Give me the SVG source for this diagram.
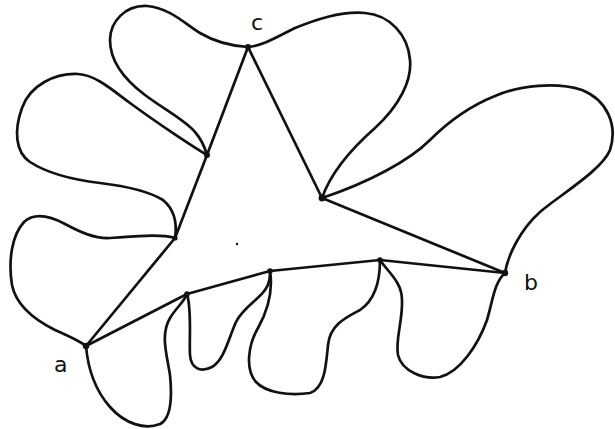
<svg xmlns="http://www.w3.org/2000/svg" width="615" height="429" viewBox="0 0 615 429">
<style>
.ln{fill:none;stroke:#111;stroke-width:2.7;stroke-linecap:round;stroke-linejoin:round}
.pt{fill:#111}
.lbl{font-family:"DejaVu Sans","Liberation Sans",sans-serif;font-size:22px;fill:#111}
</style>
<rect width="615" height="429" fill="#fff"/>
<g id="connectors">
<path class="ln" d="M248,47 L207,155 L175,238 L86,346"/>
<path class="ln" d="M248,47 L322,198 L505,273"/>
<path class="ln" d="M86,346 L187,294 L270,271 L380,260 L505,273"/>
<path class="ln" d="M248,47 C232,46 215,42 200,33 C185,24 170,8 147,6 C125,5 110,22 110,40 C110,62 125,80 145,95 C165,110 185,120 195,132 C202,140 205,148 207,155"/>
<path class="ln" d="M207,155 C195,148 160,125 130,103 C110,88 95,75 78,74 C55,73 30,85 22,108 C14,130 15,152 30,162 C50,175 75,180 100,183 C125,186 150,192 163,200 C175,210 177,225 175,238"/>
<path class="ln" d="M175,238 C160,234 140,236 110,238 C95,239 80,232 65,224 C50,216 35,212 24,222 C12,235 8,260 12,285 C16,305 35,320 55,330 C68,336 78,340 86,346"/>
<path class="ln" d="M86,346 C88,370 95,390 110,407 C125,424 145,430 160,424 C172,418 172,395 170,375 C167,355 160,335 170,318 C176,308 184,302 187,294"/>
<path class="ln" d="M187,294 C192,310 189,340 190,355 C191,368 200,373 212,367 C224,360 228,340 236,322 C243,308 258,300 265,290 C270,283 270,277 270,271"/>
<path class="ln" d="M270,271 C273,290 268,310 258,328 C248,345 245,370 256,382 C266,393 290,396 310,393 C325,388 326,365 328,345 C330,325 345,318 360,310 C375,300 380,280 380,260"/>
<path class="ln" d="M380,260 C388,272 402,282 402,300 C403,320 395,340 398,355 C402,372 425,380 440,377 C460,372 478,345 487,320 C493,300 494,283 505,273"/>
<path class="ln" d="M505,273 C508,255 520,230 540,212 C560,195 602,170 610,150 C618,125 607,100 582,90 C557,82 520,85 495,96 C470,106 450,120 430,140 C410,160 370,182 322,198"/>
<path class="ln" d="M322,198 C330,175 350,150 375,128 C400,105 412,80 410,60 C408,35 390,15 365,13 C340,11 315,20 295,28 C275,38 262,46 248,47"/>
</g>
<g id="node-c"><circle class="pt" cx="248" cy="47" r="3"/><text class="lbl" x="251" y="30">c</text></g>
<g id="node-a"><circle class="pt" cx="86" cy="346" r="3.2"/><text class="lbl" x="54" y="372">a</text></g>
<g id="node-b"><circle class="pt" cx="505" cy="273" r="3.2"/><text class="lbl" x="524" y="290">b</text></g>
<g id="node-p1"><circle class="pt" cx="207" cy="155" r="3"/></g>
<g id="node-p2"><circle class="pt" cx="175" cy="238" r="2.6"/></g>
<g id="node-p3"><circle class="pt" cx="322" cy="198" r="3.4"/></g>
<g id="node-p4"><circle class="pt" cx="187" cy="294" r="2.8"/></g>
<g id="node-p5"><circle class="pt" cx="270" cy="271" r="2.8"/></g>
<g id="node-p6"><circle class="pt" cx="380" cy="260" r="2.8"/></g>
<circle class="pt" cx="237" cy="244" r="1.2"/>
</svg>
